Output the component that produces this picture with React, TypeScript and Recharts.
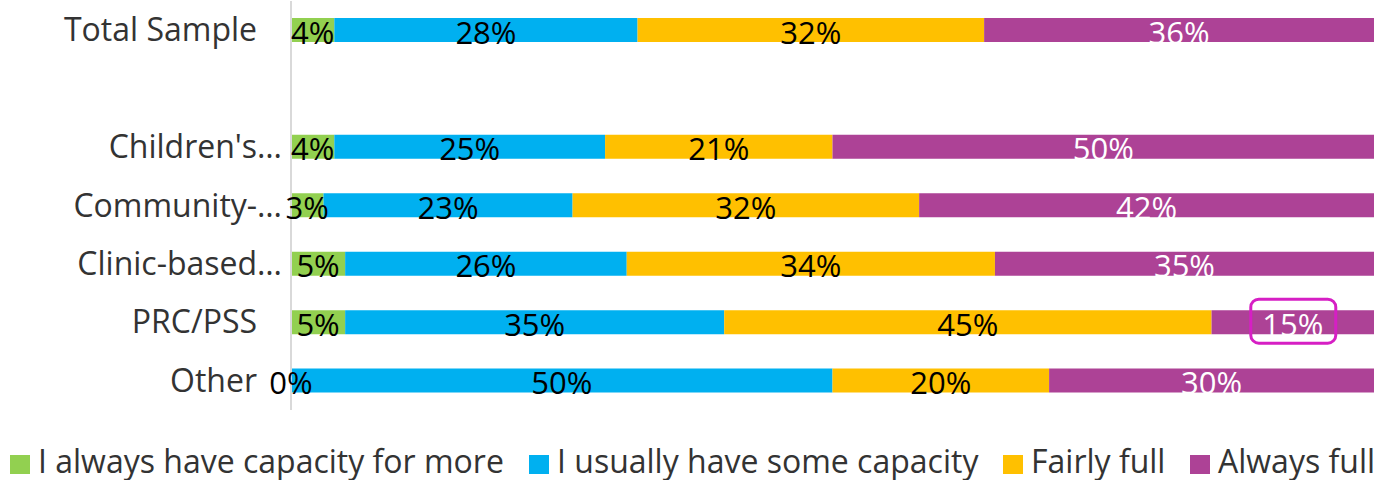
import React from "react";
import { BarChart, Bar, XAxis, YAxis, LabelList } from "recharts";

const categories = ["Total Sample", "", "Children's…", "Community-…", "Clinic-based…", "PRC/PSS", "Other"];
const alwaysCapacity = [4, null, 4, 3, 5, 5, 0];
const usuallyCapacity = [28, null, 25, 23, 26, 35, 50];
const fairlyFull = [32, null, 21, 32, 34, 45, 20];
const alwaysFull = [36, null, 50, 42, 35, 15, 30];
const highlighted = "PRC/PSS";

const seriesNames = ["I always have capacity for more", "I usually have some capacity", "Fairly full", "Always full"];
const seriesKeys = ["a", "b", "c", "d"];
const seriesColors = ["#92D050", "#00B0F0", "#FFC000", "#AD4296"];
const labelColors = ["#000000", "#000000", "#000000", "#FFFFFF"];

const data = categories.map((name, i) => ({
  name,
  a: alwaysCapacity[i],
  b: usuallyCapacity[i],
  c: fairlyFull[i],
  d: alwaysFull[i],
}));

const FONT = "'Open Sans', sans-serif";

const makeLabel = (key: string, color: string, withBox: boolean) => {
  const rows = data.filter((r: any) => r[key] !== null && r[key] !== undefined);
  return (props: any) => {
    const { x, y, width, height, value, index } = props;
    if (value === null || value === undefined) return null;
    const cx = Number(x) + Number(width) / 2;
    const cy = Number(y) + Number(height) / 2;
    const isHi = withBox && rows[index] && rows[index].name === highlighted;
    return (
      <g>
        {isHi && (
          <rect x={cx - 42} y={cy - 23} width={85} height={44} rx={8} ry={8} fill="none" stroke="#D61FC4" strokeWidth={3} />
        )}
        <text x={cx} y={cy + 1.5} textAnchor="middle" dominantBaseline="central" fill={color} fontSize={31} fontFamily={FONT}>
          {`${value}%`}
        </text>
      </g>
    );
  };
};

const YTick = (props: any) => {
  const { x, y, payload } = props;
  const label: string = payload && payload.value != null ? String(payload.value) : "";
  const extra = label.endsWith("…") ? 25 : 0;
  return (
    <text x={Number(x) + extra} y={Number(y) - 1.5} textAnchor="end" dominantBaseline="central" fill="#333333" fontSize={32} fontFamily={FONT}>
      {label}
    </text>
  );
};

const legendX = [10, 529, 1003, 1190];

export default function App() {
  return (
    <div style={{ position: "absolute", left: 0, top: 0, width: 1376, height: 480, background: "#fff", fontFamily: FONT }}>
      <BarChart
        width={1376}
        height={410}
        data={data}
        layout="vertical"
        margin={{ top: 1, right: 2, bottom: 0, left: 0 }}
        barSize={24}
      >
        <XAxis type="number" domain={[0, 100]} hide />
        <YAxis
          type="category"
          dataKey="name"
          width={291}
          tickLine={false}
          tickSize={0}
          tickMargin={34}
          axisLine={{ stroke: "#D9D9D9", strokeWidth: 2 }}
          tick={<YTick />}
          interval={0}
        />
        {seriesKeys.map((k, i) => (
          <Bar
            key={k}
            dataKey={k}
            stackId="s"
            fill={seriesColors[i]}
            isAnimationActive={false}
            name={seriesNames[i]}
            minPointSize={i === 0 ? 0.001 : 0}
          >
            <LabelList dataKey={k} content={makeLabel(k, labelColors[i], i === 3)} />
          </Bar>
        ))}
      </BarChart>
      <svg width={1376} height={70} style={{ position: "absolute", left: 0, top: 410, overflow: "visible" }}>
        {seriesNames.map((n, i) => (
          <g key={n}>
            <rect x={legendX[i]} y={45} width={20} height={19} fill={seriesColors[i]} />
            <text x={legendX[i] + 28} y={63} fontSize={32} fill="#333333" fontFamily={FONT}>
              {n}
            </text>
          </g>
        ))}
      </svg>
    </div>
  );
}
